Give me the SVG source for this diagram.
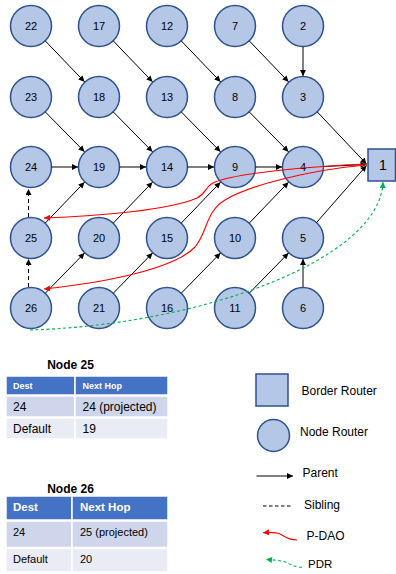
<svg xmlns="http://www.w3.org/2000/svg" width="396" height="574" viewBox="0 0 396 574">
<style>
.n{fill:#B4C7E7;stroke:#2F528F;stroke-width:1.5}
.nt{font-family:"Liberation Sans",Arial,sans-serif;font-size:11px;text-anchor:middle;fill:#000}
.p{stroke:#000;stroke-width:1;fill:none;marker-end:url(#ab)}
.s{stroke:#000;stroke-width:1;fill:none;stroke-dasharray:4,3;marker-end:url(#ab)}
.r{stroke:#FF0000;stroke-width:1.1;fill:none;marker-end:url(#ar)}
.g{stroke:#00B050;stroke-width:1.1;fill:none;stroke-dasharray:3,2.5;marker-end:url(#ag)}
.t{font-family:"Liberation Sans",Arial,sans-serif;fill:#000}
.th{fill:#4472C4;stroke:#fff;stroke-width:1.5}
.r1{fill:#CFD5EA;stroke:#fff;stroke-width:1.5}
.r2{fill:#E9EBF5;stroke:#fff;stroke-width:1.5}
</style>
<defs>
<marker id="ab" viewBox="0 0 10 10" refX="10" refY="5" markerWidth="7" markerHeight="6" markerUnits="userSpaceOnUse" orient="auto"><path d="M0,0L10,5L0,10z" fill="#000"/></marker>
<marker id="ar" viewBox="0 0 10 10" refX="10" refY="5" markerWidth="7" markerHeight="6" markerUnits="userSpaceOnUse" orient="auto"><path d="M0,0L10,5L0,10z" fill="#FF0000"/></marker>
<marker id="ag" viewBox="0 0 10 10" refX="10" refY="5" markerWidth="7" markerHeight="6" markerUnits="userSpaceOnUse" orient="auto"><path d="M0,0L10,5L0,10z" fill="#00B050"/></marker>
</defs>
<g id="node1"><rect x="368" y="149" width="27.5" height="32" class="n"/><text x="383" y="170" class="nt" style="font-size:14px">1</text></g>
<g id="node22"><circle cx="31" cy="26" r="20.5" class="n"/><text x="31" y="30" class="nt">22</text></g>
<g id="node17"><circle cx="99" cy="26" r="20.5" class="n"/><text x="99" y="30" class="nt">17</text></g>
<g id="node12"><circle cx="167" cy="26" r="20.5" class="n"/><text x="167" y="30" class="nt">12</text></g>
<g id="node7"><circle cx="235" cy="26" r="20.5" class="n"/><text x="235" y="30" class="nt">7</text></g>
<g id="node2"><circle cx="303" cy="26" r="20.5" class="n"/><text x="303" y="30" class="nt">2</text></g>
<g id="node23"><circle cx="31" cy="97" r="20.5" class="n"/><text x="31" y="101" class="nt">23</text></g>
<g id="node18"><circle cx="99" cy="97" r="20.5" class="n"/><text x="99" y="101" class="nt">18</text></g>
<g id="node13"><circle cx="167" cy="97" r="20.5" class="n"/><text x="167" y="101" class="nt">13</text></g>
<g id="node8"><circle cx="235" cy="97" r="20.5" class="n"/><text x="235" y="101" class="nt">8</text></g>
<g id="node3"><circle cx="303" cy="97" r="20.5" class="n"/><text x="303" y="101" class="nt">3</text></g>
<g id="node24"><circle cx="31" cy="167" r="20.5" class="n"/><text x="31" y="171" class="nt">24</text></g>
<g id="node19"><circle cx="99" cy="167" r="20.5" class="n"/><text x="99" y="171" class="nt">19</text></g>
<g id="node14"><circle cx="167" cy="167" r="20.5" class="n"/><text x="167" y="171" class="nt">14</text></g>
<g id="node9"><circle cx="235" cy="167" r="20.5" class="n"/><text x="235" y="171" class="nt">9</text></g>
<g id="node4"><circle cx="303" cy="167" r="20.5" class="n"/><text x="303" y="171" class="nt">4</text></g>
<g id="node25"><circle cx="31" cy="238" r="20.5" class="n"/><text x="31" y="242" class="nt">25</text></g>
<g id="node20"><circle cx="99" cy="238" r="20.5" class="n"/><text x="99" y="242" class="nt">20</text></g>
<g id="node15"><circle cx="167" cy="238" r="20.5" class="n"/><text x="167" y="242" class="nt">15</text></g>
<g id="node10"><circle cx="235" cy="238" r="20.5" class="n"/><text x="235" y="242" class="nt">10</text></g>
<g id="node5"><circle cx="303" cy="238" r="20.5" class="n"/><text x="303" y="242" class="nt">5</text></g>
<g id="node26"><circle cx="31" cy="308" r="20.5" class="n"/><text x="31" y="312" class="nt">26</text></g>
<g id="node21"><circle cx="99" cy="308" r="20.5" class="n"/><text x="99" y="312" class="nt">21</text></g>
<g id="node16"><circle cx="167" cy="308" r="20.5" class="n"/><text x="167" y="312" class="nt">16</text></g>
<g id="node11"><circle cx="235" cy="308" r="20.5" class="n"/><text x="235" y="312" class="nt">11</text></g>
<g id="node6"><circle cx="303" cy="308" r="20.5" class="n"/><text x="303" y="312" class="nt">6</text></g>
<g id="connectors">
<line class="p" x1="45.2" y1="40.8" x2="84.5" y2="81.8"/>
<line class="p" x1="113.2" y1="40.8" x2="152.5" y2="81.8"/>
<line class="p" x1="181.2" y1="40.8" x2="220.5" y2="81.8"/>
<line class="p" x1="249.2" y1="40.8" x2="288.5" y2="81.8"/>
<line class="p" x1="303" y1="47" x2="303" y2="76"/>
<line class="p" x1="45.2" y1="111.8" x2="84.5" y2="151.8"/>
<line class="p" x1="113.2" y1="111.8" x2="152.5" y2="151.8"/>
<line class="p" x1="181.2" y1="111.8" x2="220.5" y2="151.8"/>
<line class="p" x1="249.2" y1="111.8" x2="288.5" y2="151.8"/>
<line class="p" x1="317.2" y1="111.8" x2="366.5" y2="164"/>
<line class="p" x1="51.5" y1="167" x2="78" y2="167"/>
<line class="p" x1="119.5" y1="167" x2="146" y2="167"/>
<line class="p" x1="187.5" y1="167" x2="214" y2="167"/>
<line class="p" x1="255.5" y1="167" x2="282" y2="167"/>
<line class="p" x1="323.5" y1="166.5" x2="366.5" y2="164.5"/>
<line class="p" x1="45.2" y1="223.2" x2="84.5" y2="182.2"/>
<line class="p" x1="113.2" y1="223.2" x2="152.5" y2="182.2"/>
<line class="p" x1="181.2" y1="223.2" x2="220.5" y2="182.2"/>
<line class="p" x1="249.2" y1="223.2" x2="288.5" y2="182.2"/>
<line class="p" x1="316.5" y1="222.6" x2="366.5" y2="165.5"/>
<line class="p" x1="45.2" y1="293.3" x2="84.5" y2="253"/>
<line class="p" x1="113.2" y1="293.3" x2="152.5" y2="253"/>
<line class="p" x1="181.2" y1="293.3" x2="220.5" y2="253"/>
<line class="p" x1="249.2" y1="293.3" x2="288.5" y2="253"/>
<line class="p" x1="303" y1="287" x2="303" y2="259"/>
<line class="s" x1="28.5" y1="217" x2="28.5" y2="189"/>
<line class="s" x1="28.5" y1="287" x2="28.5" y2="259"/>
<path class="r" d="M366,164 C320,166 240,172 215,182 C205,186 207,193 197,198 C170,210 100,216 44,218"/>
<path class="r" d="M366,165 C310,170 250,185 225,200 C205,212 208,232 195,247 C175,268 110,282 44,289"/>
<path class="g" d="M30,330 C200,325 380,260 383,182"/>
</g>
<g id="table25">
<text x="70.5" y="369" class="t" style="font-size:12px;font-weight:bold;text-anchor:middle">Node 25</text>
<rect x="6" y="376" width="69" height="19" class="th"/><rect x="75" y="376" width="93" height="19" class="th"/>
<rect x="6" y="396" width="69" height="21" class="r1"/><rect x="75" y="396" width="93" height="21" class="r1"/>
<rect x="6" y="418" width="69" height="21" class="r2"/><rect x="75" y="418" width="93" height="21" class="r2"/>
<text x="13" y="388.5" class="t" style="font-size:9px;font-weight:bold;fill:#fff">Dest</text>
<text x="82.5" y="388.5" class="t" style="font-size:9px;font-weight:bold;fill:#fff">Next Hop</text>
<text x="13" y="411" class="t" style="font-size:12px">24</text>
<text x="82.5" y="411" class="t" style="font-size:12px">24 (projected)</text>
<text x="13" y="433" class="t" style="font-size:12px">Default</text>
<text x="82.5" y="433" class="t" style="font-size:12px">19</text>
</g>
<g id="table26">
<text x="70.5" y="492.5" class="t" style="font-size:12px;font-weight:bold;text-anchor:middle">Node 26</text>
<rect x="6" y="496" width="66" height="24" class="th"/><rect x="72" y="496" width="96" height="24" class="th"/>
<rect x="6" y="521" width="66" height="26.5" class="r1"/><rect x="72" y="521" width="96" height="26.5" class="r1"/>
<rect x="6" y="548.5" width="66" height="23.5" class="r2"/><rect x="72" y="548.5" width="96" height="23.5" class="r2"/>
<text x="13" y="511" class="t" style="font-size:11.5px;font-weight:bold;fill:#fff">Dest</text>
<text x="80" y="511" class="t" style="font-size:11.5px;font-weight:bold;fill:#fff">Next Hop</text>
<text x="13" y="536" class="t" style="font-size:11px">24</text>
<text x="80" y="536" class="t" style="font-size:11px">25 (projected)</text>
<text x="13" y="563" class="t" style="font-size:11px">Default</text>
<text x="80" y="563" class="t" style="font-size:11px">20</text>
</g>
<g id="legend">
<rect x="256" y="374" width="32" height="32" class="n"/>
<text x="301.5" y="395" class="t" style="font-size:12px">Border Router</text>
<circle cx="273.5" cy="435.5" r="16" class="n"/>
<text x="300" y="436" class="t" style="font-size:12px">Node Router</text>
<line class="p" x1="256.5" y1="476" x2="293" y2="476"/>
<text x="302.5" y="477" class="t" style="font-size:12px">Parent</text>
<line x1="263" y1="506" x2="293" y2="506" stroke="#000" stroke-width="1" stroke-dasharray="3.5,2.5"/>
<text x="304" y="508.5" class="t" style="font-size:12px">Sibling</text>
<path class="r" d="M297,540 C288,540 284,536 280,534 C276,532 272,532 263,532.7"/>
<text x="306.5" y="540" class="t" style="font-size:12px">P-DAO</text>
<path class="g" d="M302,567.3 C292,567 288,562 283,561.5 C278,560 272,560 266,559.3"/>
<text x="308" y="568" class="t" style="font-size:11.5px">PDR</text>
</g>
</svg>
